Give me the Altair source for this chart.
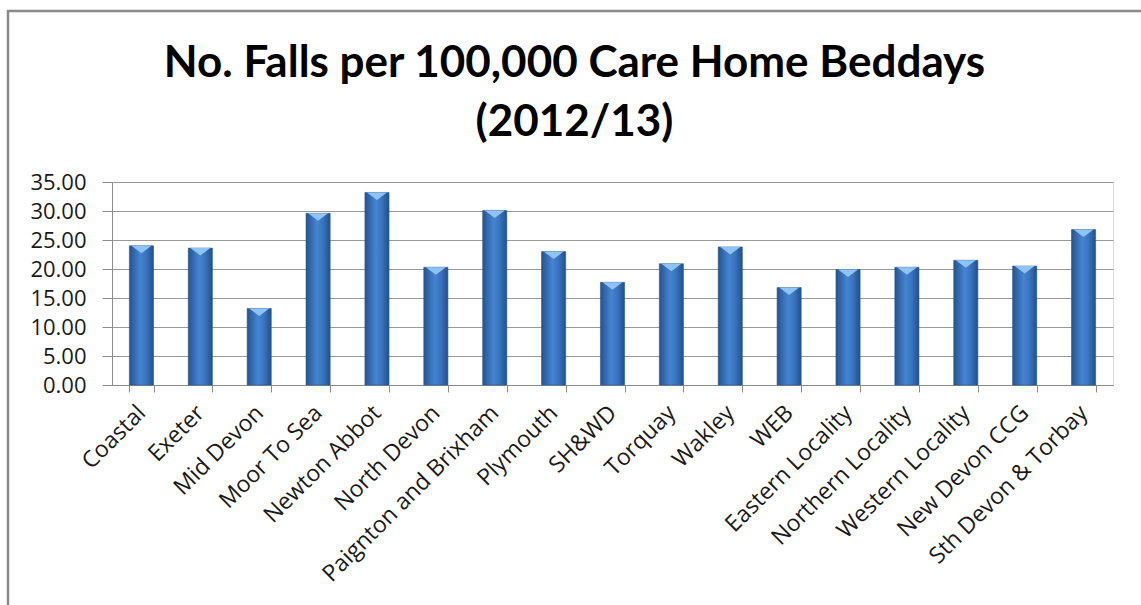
import altair as alt
import pandas as pd

categories = ["Coastal", "Exeter", "Mid Devon", "Moor To Sea", "Newton Abbot",
              "North Devon", "Paignton and Brixham", "Plymouth", "SH&WD", "Torquay",
              "Wakley", "WEB", "Eastern Locality", "Northern Locality",
              "Western Locality", "New Devon CCG", "Sth Devon & Torbay"]
values = [24.0, 23.6, 13.2, 29.6, 33.2, 20.3, 30.1, 23.0, 17.7, 20.9,
          23.8, 16.8, 19.9, 20.3, 21.5, 20.5, 26.8]
y_ticks = [0, 5, 10, 15, 20, 25, 30, 35]

df = pd.DataFrame({"cat": categories, "val": values})

W, H = 1001, 203
PL, PT = 112, 182
BORDER_TOP = 11

x_axis = alt.Axis(labelAngle=-45, labelAlign="right", labelBaseline="middle",
                  labelFont="Open Sans", labelFontSize=23, labelColor="#1a1a1a",
                  labelPadding=17, labelLimit=0, tickBand="extent", tickSize=7,
                  tickColor="#8c8c8c", domainColor="#8c8c8c", grid=False,
                  labelOverlap=False)
y_axis = alt.Axis(values=y_ticks, tickCount=8, format=".2f", labelFont="Open Sans",
                  labelFontSize=22, labelColor="#1a1a1a", labelPadding=16,
                  labelOverlap=False, labelFlush=False,
                  tickSize=10, tickColor="#8c8c8c", domainColor="#8c8c8c",
                  gridColor="#9a9a9a", gridWidth=1.2)

x_enc = alt.X("cat:N", sort=categories, title=None,
              scale=alt.Scale(paddingInner=0.59, paddingOuter=0.295), axis=x_axis)
y_enc = alt.Y("val:Q", title=None,
              scale=alt.Scale(domain=[0, 35], nice=False), axis=y_axis)

bar_fill = alt.Gradient(gradient="linear",
                        stops=[alt.GradientStop(color="#25548f", offset=0),
                               alt.GradientStop(color="#4584d2", offset=0.45),
                               alt.GradientStop(color="#3a74bd", offset=0.7),
                               alt.GradientStop(color="#22508a", offset=1)],
                        x1=0, x2=1, y1=0, y2=0)

bars = alt.Chart(df).mark_bar(fill=bar_fill, stroke="#2a5a96", strokeWidth=0.6).encode(
    x=x_enc, y=y_enc)

caps = alt.Chart(df).mark_point(shape="M -1 0 L 1 0 L 0 0.75 Z", filled=True,
                                size=400, color="#8fc3f5", opacity=1).encode(
    x=x_enc, y=y_enc)

border_df = pd.DataFrame({"a": [0]})
border = alt.Chart(border_df).mark_rect(fill=None, stroke="#8a8a8a", strokeWidth=2.5).encode(
    x=alt.value(8 - PL), x2=alt.value(1141 - PL + 20),
    y=alt.value(BORDER_TOP - PT), y2=alt.value(605 - PT + 20))

# title is offset relative to the group bounds (which start at the border's top)
title_bottom_gap = 182 - 145  # distance from plot top to bottom of title block
chart = alt.layer(border, bars, caps).properties(
    width=W, height=H,
    title=alt.TitleParams(
        text=["No. Falls per 100,000 Care Home Beddays", "(2012/13)"],
        font="Lato", fontSize=44, fontWeight="bold", color="#000000",
        lineHeight=59, anchor="middle", dx=-38,
        offset=-(PT - BORDER_TOP + 1) + title_bottom_gap),
    autosize=alt.AutoSizeParams(type="none"),
    padding={"left": PL, "top": PT, "right": 1141 - PL - W, "bottom": 605 - PT - H},
).configure_view(stroke=None).configure(background="white")

chart.save("out.html", embed_options={"renderer": "svg", "actions": False})
